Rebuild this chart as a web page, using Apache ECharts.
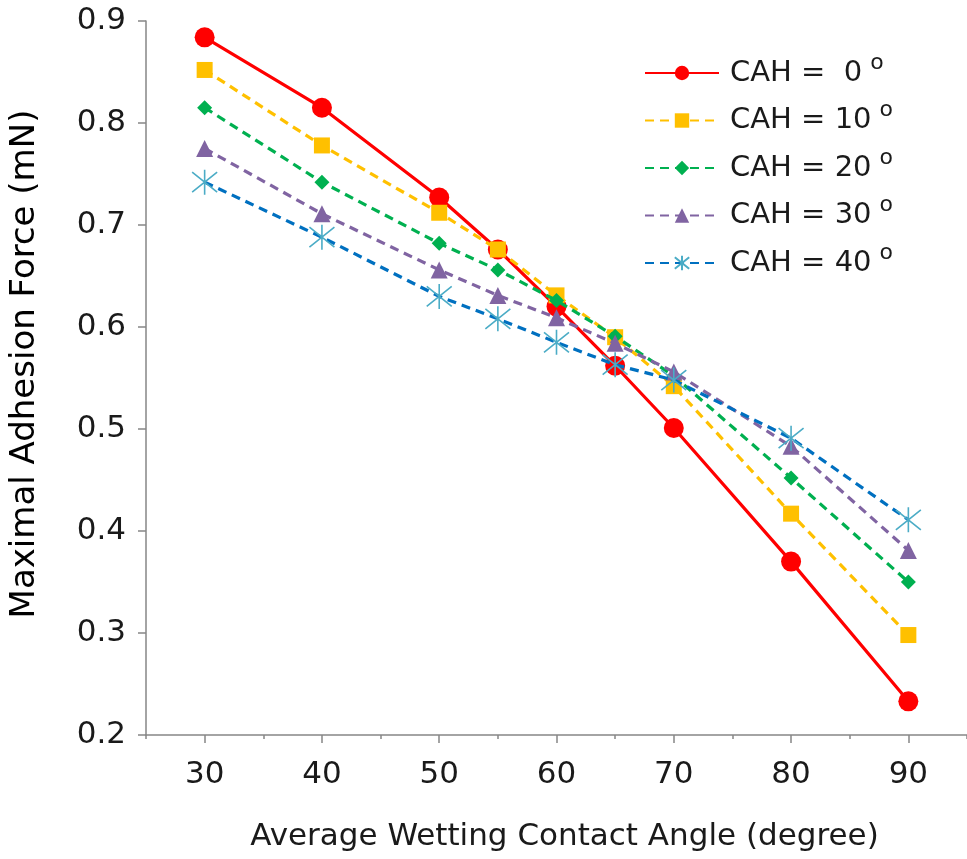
<!DOCTYPE html>
<html>
<head>
<meta charset="utf-8">
<script src="https://cdn.jsdelivr.net/npm/echarts@6/dist/echarts.min.js"></script>
<style>html,body{margin:0;padding:0;background:#fff}#c{width:967px;height:859px}</style>
</head>
<body>
<div id="c"></div>
<script>
const angles = [30, 40, 50, 55, 60, 65, 70, 80, 90];
const cah0  = [0.884, 0.815, 0.727, 0.676, 0.620, 0.562, 0.501, 0.370, 0.233];
const cah10 = [0.852, 0.778, 0.712, 0.676, 0.631, 0.590, 0.542, 0.417, 0.298];
const cah20 = [0.815, 0.742, 0.682, 0.656, 0.626, 0.591, 0.552, 0.452, 0.350];
const cah30 = [0.775, 0.711, 0.656, 0.631, 0.609, 0.584, 0.556, 0.483, 0.381];
const cah40 = [0.742, 0.688, 0.630, 0.608, 0.585, 0.563, 0.548, 0.491, 0.411];
const seriesNames = ['CAH =  0', 'CAH = 10', 'CAH = 20', 'CAH = 30', 'CAH = 40'];
const xMajorTicks = [30, 40, 50, 60, 70, 80, 90];
const xMinorTicks = [25, 35, 45, 55, 65, 75, 85, 95];

const FONT = 'DejaVu Sans';
const pairs = v => angles.map((a, i) => [a, v[i]]);
const star = 'path://M10,0L10,20M2,2L18,18M2,18L18,2';

const styles = [
  {color:'#FF0000', type:'solid', symbol:'circle', size:20, mcolor:'#FF0000'},
  {color:'#FFC000', type:[9,6], symbol:'rect', size:16, mcolor:'#FFC000'},
  {color:'#00B050', type:[9,6], symbol:'diamond', size:15, mcolor:'#00B050'},
  {color:'#8064A2', type:[9,6], symbol:'triangle', size:17, mcolor:'#8064A2'},
  {color:'#0070C0', type:[9,6], symbol:star, size:25, mcolor:'#4BACC6'}
];
const dataSets = [cah0, cah10, cah20, cah30, cah40];

const series = dataSets.map((d, i) => {
  const s = styles[i];
  const isStar = i === 4;
  return {
    name: seriesNames[i],
    type: 'line',
    data: pairs(d),
    symbol: s.symbol,
    symbolSize: s.size,
    lineStyle: {color: s.color, width: 3.2, type: s.type},
    itemStyle: isStar
      ? {color: 'rgba(0,0,0,0)', borderColor: s.mcolor, borderWidth: 1.6}
      : {color: s.mcolor, borderWidth: 0},
    emphasis: {disabled: true},
    z: 2 + i
  };
});

const chart = echarts.init(document.getElementById('c'));
chart.setOption({
  animation: false,
  backgroundColor: '#fff',
  textStyle: {fontFamily: FONT},
  grid: {left: 146, right: -4, top: 21, bottom: 124},
  legend: {
    orient: 'vertical',
    left: 639, top: 47,
    itemWidth: 74, itemHeight: 18, itemGap: 12,
    data: seriesNames,
    formatter: n => '{t|' + n + '}{s|o}',
    textStyle: {
      fontFamily: FONT, color: '#1a1a1a',
      rich: {
        t: {fontFamily: FONT, fontSize: 29, color: '#1a1a1a', lineHeight: 36, padding: [0, 0, 0, 6]},
        s: {fontFamily: FONT, fontSize: 22, color: '#1a1a1a', padding: [0, 0, 20, 8]}
      }
    }
  },
  xAxis: [{
    type: 'value', min: 25, max: 95,
    name: 'Average Wetting Contact Angle (degree)',
    nameLocation: 'middle', nameGap: 86,
    nameTextStyle: {fontFamily: FONT, fontSize: 31, color: '#1a1a1a', padding: [0, 0, 0, 16]},
    axisLine: {onZero: false, lineStyle: {color: '#868686', width: 1.5}},
    axisTick: {show: true, length: 8, customValues: xMajorTicks, lineStyle: {color: '#868686', width: 1.5}},
    axisLabel: {customValues: xMajorTicks, margin: 24, fontFamily: FONT, fontSize: 31, color: '#1a1a1a'},
    splitLine: {show: false}
  }, {
    type: 'value', min: 25, max: 95, position: 'bottom',
    axisLine: {show: false},
    axisTick: {show: true, length: 4, customValues: xMinorTicks, lineStyle: {color: '#868686', width: 1.5}},
    axisLabel: {show: false},
    splitLine: {show: false}
  }],
  yAxis: {
    type: 'value', min: 0.2, max: 0.9, interval: 0.1,
    name: 'Maximal Adhesion Force (mN)',
    nameLocation: 'middle', nameGap: 104,
    nameTextStyle: {fontFamily: FONT, fontSize: 34, color: '#000', padding: [0, 0, 0, 28]},
    axisLine: {show: true, lineStyle: {color: '#868686', width: 1.5}},
    axisTick: {show: true, length: 8, lineStyle: {color: '#868686', width: 1.5}},
    axisLabel: {margin: 20, fontFamily: FONT, fontSize: 31, color: '#1a1a1a', formatter: v => v.toFixed(1)},
    splitLine: {show: false}
  },
  series: series
});
</script>
</body>
</html>
